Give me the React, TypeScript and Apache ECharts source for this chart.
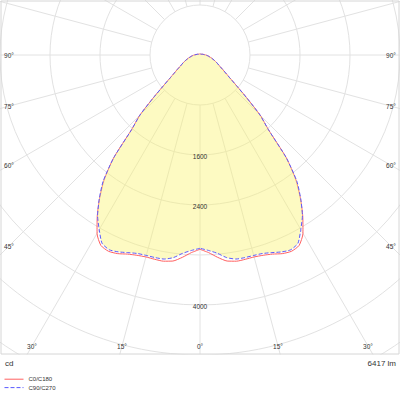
import React, { useEffect, useRef } from 'react';
import * as echarts from 'echarts';

// Angles from nadir (degrees) at which intensities were read
const ANGLES = [
  0, 2.5, 5, 7.5, 10, 12.5, 15, 17.5, 20, 22.5, 25, 27.5, 30, 32.5, 35, 37.5, 40,
  42.5, 45, 47.5, 50, 52.5, 55, 57.5, 60, 65, 70, 75, 80, 85, 90, 105, 120, 135,
  150, 165, 180,
];
// Luminous intensity (cd), C0/C180 plane (symmetric)
const C0_C180 = [
  3109, 3165, 3250, 3325, 3350, 3348, 3345, 3360, 3390, 3440, 3465, 3435, 3295,
  3060, 2800, 2520, 2150, 1620, 1358, 1010, 760, 600, 500, 430, 370, 300, 240,
  190, 150, 120, 90, 45, 25, 20, 18, 16, 16,
];
// Luminous intensity (cd), C90/C270 plane (symmetric)
const C90_C270 = [
  3093, 3130, 3185, 3270, 3315, 3320, 3320, 3330, 3365, 3410, 3438, 3395, 3225,
  3050, 2810, 2545, 2150, 1620, 1358, 1010, 760, 600, 500, 430, 370, 300, 240,
  190, 150, 120, 90, 45, 25, 20, 18, 16, 16,
];
const SERIES_NAMES = ['C0/C180', 'C90/C270'];
const RING_LABELS = [1600, 2400, 4000];
const ANGLE_LABELS = [0, 15, 30, 45, 60, 75, 90];
const UNIT_TEXT = 'cd';
const FLUX_TEXT = '6417 lm';

const R_MAX = 5600;
const R_STEP = 800;
const ANGLE_STEP = 15;

const FONT = '"Liberation Sans", Arial, sans-serif';
const TEXT_COLOR = '#333';
const GRID_COLOR = '#e2e2e2';

function loop(values: number[]) {
  const left = ANGLES.map((a, i) => [values[i], a]);
  const right = ANGLES.map((a, i) => [values[i], 360 - a]).reverse();
  return left.concat(right);
}

export default function App() {
  const ref = useRef<HTMLDivElement>(null);

  useEffect(() => {
    if (!ref.current) return;
    const chart = echarts.init(ref.current, undefined, { renderer: 'svg' });
    const center = [200, 55];
    chart.setOption({
      animation: false,
      backgroundColor: '#fff',
      polar: [
        { center, radius: [0, 350] },
        { center, radius: [50, 350] },
      ],
      angleAxis: [
        {
          polarIndex: 0,
          type: 'value',
          min: 0,
          max: 360,
          interval: ANGLE_STEP,
          startAngle: -90,
          clockwise: true,
          axisLine: { show: false },
          axisTick: { show: false },
          axisLabel: { show: false },
          splitLine: { show: false },
        },
        {
          polarIndex: 1,
          type: 'value',
          min: 0,
          max: 360,
          interval: ANGLE_STEP,
          startAngle: -90,
          clockwise: true,
          axisLine: { show: false },
          axisTick: { show: false },
          axisLabel: { show: false },
          splitLine: { show: true, lineStyle: { color: GRID_COLOR, width: 1 } },
        },
      ],
      radiusAxis: [
        {
          polarIndex: 0,
          type: 'value',
          min: 0,
          max: R_MAX,
          interval: R_STEP,
          axisLine: { show: false },
          axisTick: { show: false },
          axisLabel: { show: false },
          splitLine: { show: true, lineStyle: { color: GRID_COLOR, width: 1 } },
        },
        {
          polarIndex: 1,
          type: 'value',
          min: 0,
          max: R_MAX,
          show: false,
          splitLine: { show: false },
        },
      ],
      legend: {
        data: SERIES_NAMES,
        orient: 'vertical',
        left: 4,
        top: 376,
        padding: 0,
        itemWidth: 19,
        itemHeight: 8,
        itemGap: 2,
        z: 30,
        itemStyle: { opacity: 0 },
        lineStyle: { width: 1 },
        textStyle: { fontSize: 6, color: TEXT_COLOR, fontFamily: FONT },
      },
      series: [
        {
          name: SERIES_NAMES[0],
          type: 'line',
          coordinateSystem: 'polar',
          polarIndex: 0,
          data: loop(C0_C180),
          symbol: 'none',
          smooth: 0.2,
          z: 2,
          lineStyle: { color: '#ff6060', width: 1 },
          itemStyle: { color: '#ff6060' },
        },
        {
          name: SERIES_NAMES[1],
          type: 'line',
          coordinateSystem: 'polar',
          polarIndex: 0,
          data: loop(C90_C270),
          symbol: 'none',
          smooth: 0.2,
          z: 3,
          lineStyle: { color: '#5a5aff', width: 1, type: [4, 2] },
          itemStyle: { color: '#5a5aff' },
          areaStyle: { color: 'rgba(250,242,110,0.6)' },
        },
      ],
    });

    const toPx = (v: number[]) =>
      chart.convertToPixel({ seriesIndex: 0 }, v) as unknown as number[];
    const c = toPx([0, 0]);
    const LX = 9;
    const RX = 391;
    const BY = 346;
    const graphics: any[] = [];

    graphics.push({
      type: 'rect',
      shape: { x: 0, y: 354.5, width: 400, height: 46 },
      style: { fill: '#fff' },
      z: 10,
    });
    graphics.push({
      type: 'rect',
      shape: { x: 1, y: 1, width: 398, height: 353 },
      style: { fill: 'none', stroke: '#d6d6d6', lineWidth: 1 },
      z: 20,
    });

    RING_LABELS.forEach((v) => {
      const p = toPx([v, 0]);
      graphics.push({
        type: 'text',
        x: p[0],
        y: p[1] + 1,
        z: 20,
        style: {
          text: String(v),
          fill: TEXT_COLOR,
          font: `6.5px ${FONT}`,
          align: 'center',
          verticalAlign: 'middle',
        },
      });
    });

    ANGLE_LABELS.forEach((a) => {
      [a, 360 - a].forEach((ang, side) => {
        if (a === 0 && side === 1) return;
        const p = toPx([R_MAX, ang]);
        const dx = p[0] - c[0];
        const dy = p[1] - c[1];
        const len = Math.hypot(dx, dy);
        const ux = dx / len;
        const uy = dy / len;
        let t = Infinity;
        if (ux < -1e-6) t = Math.min(t, (c[0] - LX) / -ux);
        if (ux > 1e-6) t = Math.min(t, (RX - c[0]) / ux);
        if (uy > 1e-6) t = Math.min(t, (BY - c[1]) / uy);
        graphics.push({
          type: 'text',
          x: c[0] + ux * t,
          y: c[1] + uy * t,
          z: 20,
          style: {
            text: `${a}°`,
            fill: TEXT_COLOR,
            font: `6.5px ${FONT}`,
            align: 'center',
            verticalAlign: 'middle',
          },
        });
      });
    });

    graphics.push({
      type: 'text',
      x: 5,
      y: 363,
      z: 20,
      style: { text: UNIT_TEXT, fill: TEXT_COLOR, font: `8px ${FONT}`, align: 'left', verticalAlign: 'middle' },
    });
    graphics.push({
      type: 'text',
      x: 396,
      y: 363,
      z: 20,
      style: { text: FLUX_TEXT, fill: TEXT_COLOR, font: `8px ${FONT}`, align: 'right', verticalAlign: 'middle' },
    });

    chart.setOption({ graphic: graphics });

    return () => chart.dispose();
  }, []);

  return (
    <div
      ref={ref}
      style={{ position: 'fixed', left: 0, top: 0, width: 400, height: 400 }}
    />
  );
}
